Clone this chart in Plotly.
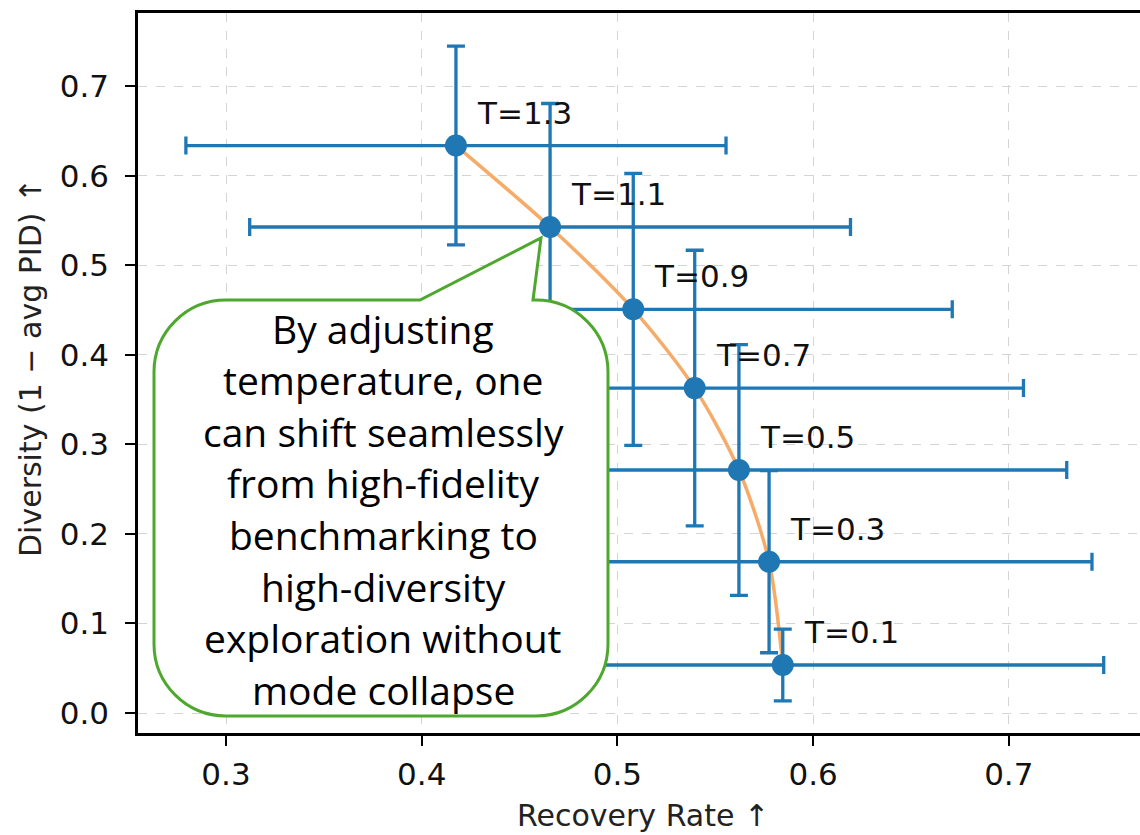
import plotly.graph_objects as go

# ---- data ----
temps = ["1.3", "1.1", "0.9", "0.7", "0.5", "0.3", "0.1"]
recovery = [0.4175, 0.4656, 0.5081, 0.5395, 0.5621, 0.5775, 0.5845]
diversity = [0.634, 0.543, 0.451, 0.363, 0.2715, 0.169, 0.0536]
recovery_err = [0.138, 0.1535, 0.163, 0.168, 0.1675, 0.165, 0.164]
diversity_err = [0.111, 0.138, 0.152, 0.154, 0.140, 0.1017, 0.040]

x_ticks = [0.3, 0.4, 0.5, 0.6, 0.7]
y_ticks = [0.0, 0.1, 0.2, 0.3, 0.4, 0.5, 0.6, 0.7]

x_title = "Recovery Rate ↑"
y_title = "Diversity (1 − avg PID) ↑"
callout_lines = ["By adjusting", "temperature, one", "can shift seamlessly",
                 "from high-fidelity", "benchmarking to", "high-diversity",
                 "exploration without", "mode collapse"]

# ---- layout geometry (pixels) ----
W, H = 1140, 835
ML, MR, MT, MB = 138, 0, 13, 102
X_RANGE = [0.25503, 0.76704]
Y_RANGE = [-0.02235, 0.7821]

BLUE = "#1f77b4"
ORANGE = "#f7ab68"
GREEN = "#4ea72e"


def px_to_paper(px, py):
    pw = W - ML - MR
    ph = H - MT - MB
    return (px - ML) / pw, (H - MB - py) / ph


fig = go.Figure()

# smooth orange trend line
fig.add_trace(go.Scatter(
    x=recovery, y=diversity, mode="lines",
    line=dict(color=ORANGE, width=3.5, shape="spline", smoothing=0.8),
    hoverinfo="skip", showlegend=False,
))

# points with error bars
fig.add_trace(go.Scatter(
    x=recovery, y=diversity, mode="markers",
    marker=dict(color=BLUE, size=22),
    error_x=dict(type="data", array=recovery_err, color=BLUE, thickness=3.3, width=9),
    error_y=dict(type="data", array=diversity_err, color=BLUE, thickness=3.3, width=9),
    showlegend=False,
))

# T labels
for t, xv, yv in zip(temps, recovery, diversity):
    fig.add_annotation(
        x=xv, y=yv, text=f"T={t}", showarrow=False,
        xanchor="left", yanchor="middle", xshift=19, yshift=33,
        font=dict(family="DejaVu Sans", size=31, color="#111111"),
    )

# ---- callout bubble ----
L, R, T, B = 154, 608, 300, 716
r = 72
k = 0.5523
tail_l, tail_r = 420, 533
tip = (541, 238)


def P(px, py):
    x, y = px_to_paper(px, py)
    return f"{x:.5f},{y:.5f}"


path = (
    f"M{P(L + r, T)} L{P(tail_l, T)} L{P(*tip)} L{P(tail_r, T)} L{P(R - r, T)} "
    f"C{P(R - r + k * r, T)} {P(R, T + r - k * r)} {P(R, T + r)} "
    f"L{P(R, B - r)} "
    f"C{P(R, B - r + k * r)} {P(R - r + k * r, B)} {P(R - r, B)} "
    f"L{P(L + r, B)} "
    f"C{P(L + r - k * r, B)} {P(L, B - r + k * r)} {P(L, B - r)} "
    f"L{P(L, T + r)} "
    f"C{P(L, T + r - k * r)} {P(L + r - k * r, T)} {P(L + r, T)} Z"
)
fig.add_shape(type="path", path=path, xref="paper", yref="paper",
              line=dict(color=GREEN, width=3), fillcolor="white", layer="above")

line_y0, line_dy = 328, 51.6
for i, txt in enumerate(callout_lines):
    cx, cy = px_to_paper((L + R) / 2 + 2, line_y0 + i * line_dy)
    fig.add_annotation(
        x=cx, y=cy, xref="paper", yref="paper", text=txt, showarrow=False,
        xanchor="center", yanchor="middle", align="center",
        font=dict(family="Open Sans", size=39, color="black"),
    )

# axis titles
tx, ty = px_to_paper((ML + W - MR) / 2 + 4, 815)
fig.add_annotation(x=tx, y=ty, xref="paper", yref="paper", text=x_title,
                   showarrow=False, xanchor="center", yanchor="middle",
                   font=dict(family="DejaVu Sans", size=30, color="#222222"))
tx, ty = px_to_paper(30, 368)
fig.add_annotation(x=tx, y=ty, xref="paper", yref="paper", text=y_title,
                   showarrow=False, xanchor="center", yanchor="middle", textangle=-90,
                   font=dict(family="DejaVu Sans", size=30, color="#222222"))

axis_common = dict(
    showline=True, linecolor="black", linewidth=2.5,
    ticks="outside", ticklen=10, tickwidth=2, tickcolor="black",
    showgrid=True, gridcolor="#d4d4d4", gridwidth=1, griddash="dash",
    zeroline=False,
    tickfont=dict(family="DejaVu Sans", size=31, color="#111111"),
)

fig.update_xaxes(
    range=X_RANGE, tickvals=x_ticks, ticktext=[f"{v:.1f}" for v in x_ticks],
    mirror=True, ticklabelstandoff=2, **axis_common,
)
fig.update_yaxes(
    range=Y_RANGE, tickvals=y_ticks, ticktext=[f"{v:.1f}" for v in y_ticks],
    mirror=False, ticklabelstandoff=10, **axis_common,
)

fig.update_layout(
    width=W, height=H,
    margin=dict(l=ML, r=MR, t=MT, b=MB, pad=0),
    plot_bgcolor="white", paper_bgcolor="white",
    showlegend=False,
)

fig.write_html(
    "out.html",
    config={"displayModeBar": False},
    post_script="document.body.style.margin='0';document.body.style.padding='0';",
)
